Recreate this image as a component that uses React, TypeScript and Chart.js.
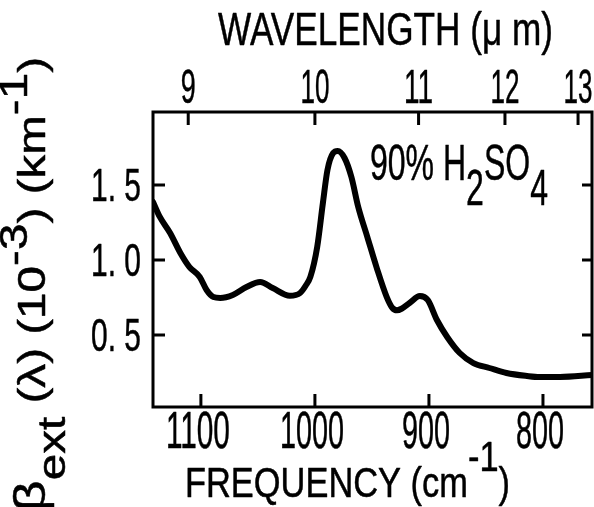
import React, { useEffect, useRef } from 'react';
import { Chart, registerables } from 'chart.js';

Chart.register(...registerables);

// Frequency (cm^-1) and extinction coefficient (10^-3 km^-1)
const frequency = [
  1142, 1136, 1127, 1118, 1110, 1101, 1095, 1089, 1083, 1072, 1060, 1048, 1037, 1022,
  1013, 1008, 1004, 998, 993, 989, 984, 980, 974, 968, 962, 954, 946, 937, 932, 928, 924,
  917, 908, 901, 893, 884, 873, 861, 847, 832, 814, 803, 785, 757,
];
const extinction = [
  1.387, 1.287, 1.18, 1.047, 0.953, 0.887, 0.8, 0.753, 0.747, 0.767, 0.82, 0.853, 0.813, 0.762,
  0.78, 0.83, 0.887, 1.087, 1.38, 1.6, 1.713, 1.727, 1.68, 1.553, 1.353, 1.153, 0.953, 0.753, 0.68, 0.665, 0.675,
  0.713, 0.76, 0.733, 0.6, 0.487, 0.38, 0.313, 0.28, 0.247, 0.227, 0.22, 0.22, 0.233,
];

const frequencyTicks = [1100, 1000, 900, 800];
const wavelengthTicks = [9, 10, 11, 12, 13];
const extinctionTicks = [0.5, 1.0, 1.5];
const extinctionTickLabels = ['0. 5', '1. 0', '1. 5'];

const FONT = '"Liberation Sans", Arial, sans-serif';

type Seg = { t: string; dy?: number; size?: number };

function segWidth(ctx: CanvasRenderingContext2D, s: Seg, size: number) {
  ctx.font = `${s.size ?? size}px ${FONT}`;
  return ctx.measureText(s.t).width;
}

function drawRich(
  ctx: CanvasRenderingContext2D,
  segs: Seg[],
  x: number,
  y: number,
  size: number,
  opts: { width?: number; scaleX?: number; align?: 'left' | 'center' | 'right'; rotate?: boolean } = {}
) {
  ctx.save();
  ctx.translate(x, y);
  if (opts.rotate) ctx.rotate(-Math.PI / 2);
  const W = segs.reduce((a, s) => a + segWidth(ctx, s, size), 0);
  const sx = opts.width ? opts.width / W : opts.scaleX ?? 1;
  ctx.scale(sx, 1);
  let cx = opts.align === 'center' ? -W / 2 : opts.align === 'right' ? -W : 0;
  ctx.fillStyle = '#000';
  ctx.strokeStyle = '#000';
  ctx.lineWidth = 0.5;
  ctx.lineJoin = 'round';
  ctx.textBaseline = 'alphabetic';
  ctx.textAlign = 'left';
  for (const s of segs) {
    ctx.font = `${s.size ?? size}px ${FONT}`;
    ctx.fillText(s.t, cx, s.dy ?? 0);
    ctx.strokeText(s.t, cx, s.dy ?? 0);
    cx += ctx.measureText(s.t).width;
  }
  ctx.restore();
}

const axisPlugin = {
  id: 'handAxes',
  afterDraw(chart: any) {
    const ctx: CanvasRenderingContext2D = chart.ctx;
    const { left, right, top, bottom } = chart.chartArea;
    const xs = chart.scales.x;
    const x2 = chart.scales.x2;
    const ys = chart.scales.y;
    ctx.save();
    ctx.strokeStyle = '#000';
    ctx.lineWidth = 3;
    ctx.lineCap = 'butt';
    ctx.strokeRect(left, top, right - left, bottom - top);
    ctx.beginPath();
    for (const v of extinctionTicks) {
      const py = ys.getPixelForValue(v);
      ctx.moveTo(left, py);
      ctx.lineTo(left + 12, py);
      ctx.moveTo(right, py);
      ctx.lineTo(right - 10, py);
    }
    for (const f of frequencyTicks) {
      const px = xs.getPixelForValue(f);
      ctx.moveTo(px, bottom);
      ctx.lineTo(px, bottom - 13);
    }
    for (const w of wavelengthTicks) {
      const px = x2.getPixelForValue(10000 / w);
      ctx.moveTo(px, top);
      ctx.lineTo(px, top + 13);
    }
    ctx.stroke();
    ctx.restore();

    // tick labels
    extinctionTicks.forEach((v, i) => {
      const py = ys.getPixelForValue(v);
      drawRich(ctx, [{ t: extinctionTickLabels[i] }], 141, py + 16, 46, { width: 50, align: 'right' });
    });
    frequencyTicks.forEach((f) => {
      const px = xs.getPixelForValue(f);
      const s = String(f);
      drawRich(ctx, [{ t: s }], px - 3, 448, 51, { width: s.length * 16, align: 'center' });
    });
    wavelengthTicks.forEach((w) => {
      const px = x2.getPixelForValue(10000 / w);
      const s = String(w);
      drawRich(ctx, [{ t: s }], px, 103, 48, { width: s.length * 14 + 1, align: 'center' });
    });

    // axis titles
    drawRich(ctx, [{ t: 'WAVELENGTH (\u03bc m)' }], 218, 45, 46, { width: 335 });
    drawRich(
      ctx,
      [{ t: 'FREQUENCY (cm' }, { t: '-1', dy: -26 }, { t: ')' }],
      185,
      497,
      42,
      { width: 325 }
    );
    drawRich(
      ctx,
      [
        { t: '\u03b2', size: 44 },
        { t: 'ext', dy: 20 },
        { t: ' (\u03bb) (10' },
        { t: '-3', dy: -18 },
        { t: ') (km' },
        { t: '-1', dy: -18 },
        { t: ')' },
      ],
      45,
      512,
      38,
      { width: 455, rotate: true }
    );

    // annotation
    drawRich(
      ctx,
      [{ t: '90% H' }, { t: '2', dy: 25 }, { t: 'SO' }, { t: '4', dy: 25 }],
      370,
      180,
      50,
      { width: 178 }
    );
  },
};

export default function App() {
  const ref = useRef<HTMLCanvasElement | null>(null);
  useEffect(() => {
    if (!ref.current) return;
    const chart = new Chart(ref.current, {
      type: 'line',
      data: {
        datasets: [
          {
            data: frequency.map((f, i) => ({ x: f, y: extinction[i] })),
            borderColor: '#000',
            borderWidth: 6,
            pointRadius: 0,
            fill: false,
            cubicInterpolationMode: 'monotone',
            borderCapStyle: 'round',
            borderJoinStyle: 'round',
          },
        ],
      },
      options: {
        responsive: false,
        animation: false,
        layout: { padding: { left: 153, top: 112, right: 2, bottom: 100 } },
        plugins: { legend: { display: false }, tooltip: { enabled: false } },
        scales: {
          x: { type: 'linear', display: false, reverse: true, min: 757, max: 1142 },
          x2: { type: 'linear', display: false, reverse: true, min: 757, max: 1142, position: 'top' },
          y: { type: 'linear', display: false, min: 0.02, max: 1.9867 },
        },
      },
      plugins: [axisPlugin],
    } as any);
    return () => chart.destroy();
  }, []);
  return (
    <div style={{ position: 'absolute', left: 0, top: 0, width: 594, height: 507, background: '#fff' }}>
      <canvas ref={ref} width={594} height={507} />
    </div>
  );
}
